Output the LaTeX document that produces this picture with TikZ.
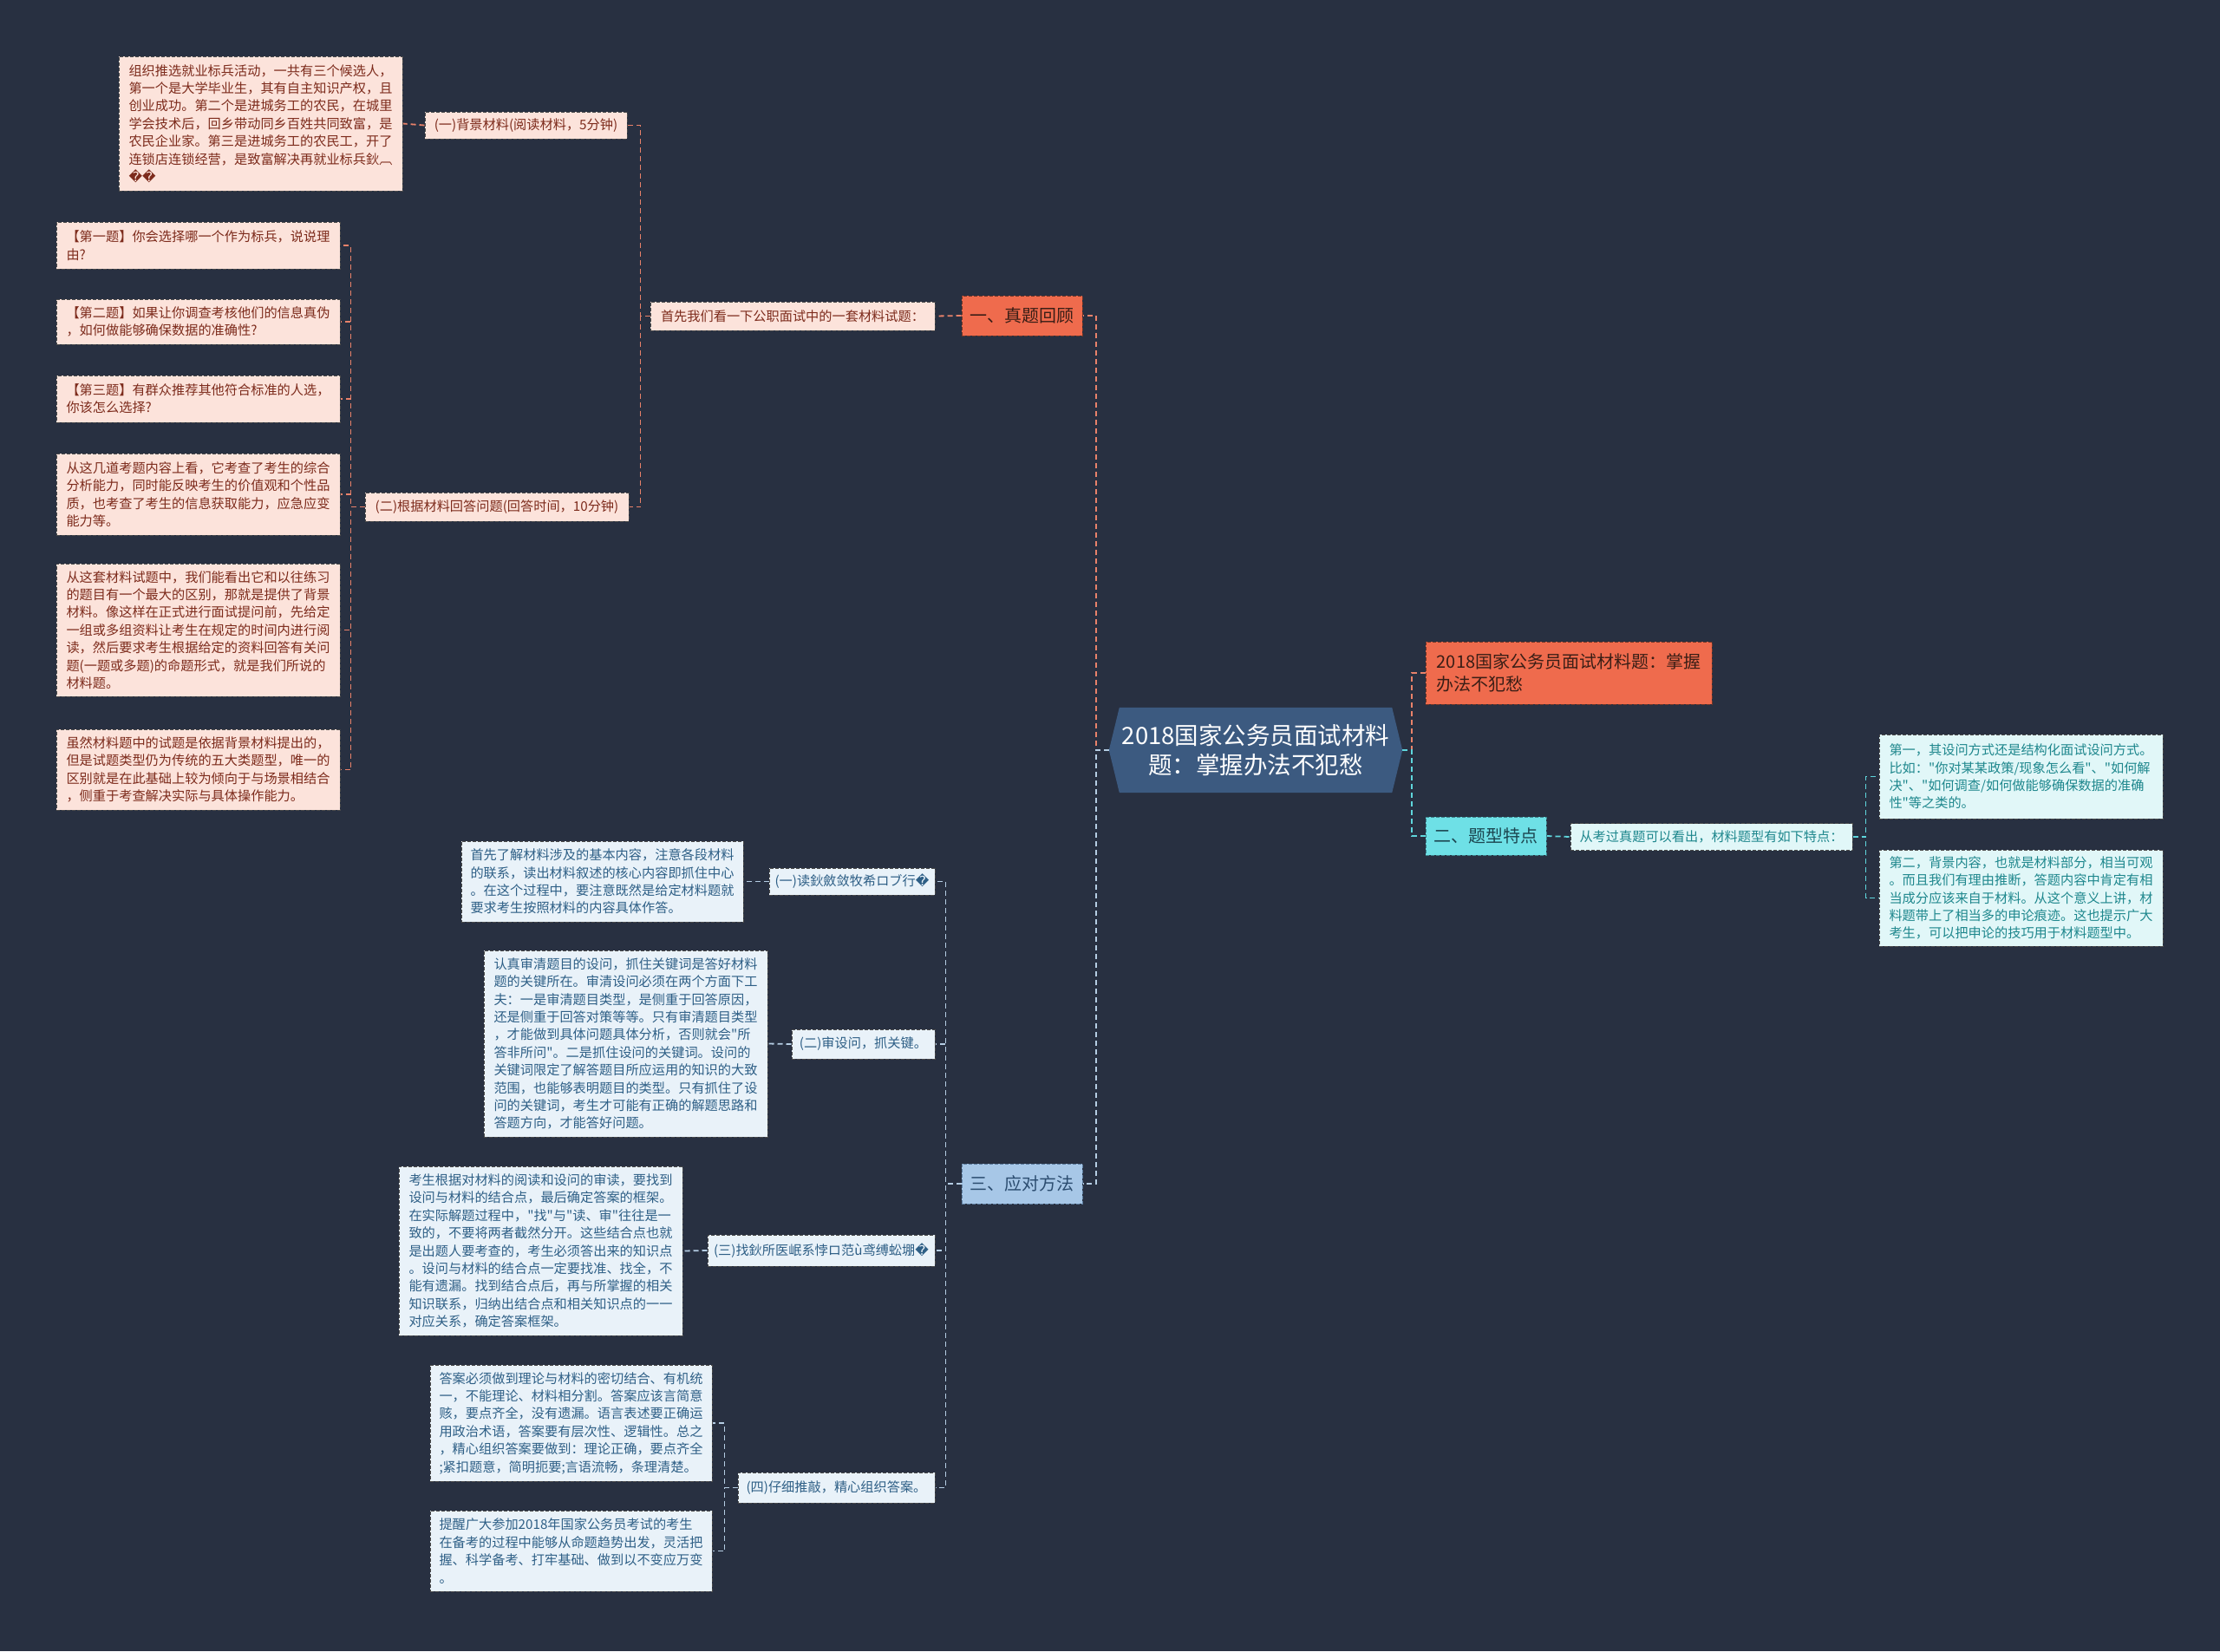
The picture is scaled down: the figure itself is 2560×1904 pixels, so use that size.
\documentclass[tikz,border=0pt]{standalone}
\usepackage{fontspec}
\newfontfamily\cjk{Noto Sans CJK SC}
\newfontfamily\dejavu{DejaVu Sans}
\usetikzlibrary{backgrounds}
\definecolor{cbg}{HTML}{283041}
\definecolor{croot}{HTML}{3C5A80}
\definecolor{corange}{HTML}{EF6B4D}
\definecolor{corangetext}{HTML}{3A1E16}
\definecolor{cpink}{HTML}{FCE3DB}
\definecolor{cpinktext}{HTML}{7D2B1C}
\definecolor{ccyan}{HTML}{6EE0E6}
\definecolor{ccyantext}{HTML}{1C4650}
\definecolor{clcyan}{HTML}{E1F7F8}
\definecolor{clcyantext}{HTML}{1E878D}
\definecolor{cblue}{HTML}{A7C7E7}
\definecolor{cbluetext}{HTML}{2B4C6F}
\definecolor{clblue}{HTML}{E9F2F9}
\definecolor{clbluetext}{HTML}{2E5F86}
\definecolor{cboxline}{HTML}{4A4A4A}
\definecolor{clinkor}{HTML}{E9826A}
\definecolor{clinkcy}{HTML}{5FD6DC}
\definecolor{clinkbl}{HTML}{B5CDE3}
\begin{document}
\begin{tikzpicture}[x=1pt,y=-1pt,
  every node/.style={inner sep=0pt},
  wh/.style 2 args={minimum width=#1, minimum height=#2},
  boxbase/.style={rectangle, draw=cboxline, line width=1pt, dash pattern=on 4pt off 2pt},
  small/.style={font=\cjk\fontsize{15.2}{20.4}\selectfont, align=left},
  pinkbox/.style={boxbase, small, fill=cpink, text=cpinktext},
  lcyanbox/.style={boxbase, small, fill=clcyan, text=clcyantext},
  lbluebox/.style={boxbase, small, fill=clblue, text=clbluetext},
  orbox/.style={boxbase, fill=corange, text=corangetext, draw=corangetext!70!corange},
  lvlone/.style={font=\cjk\fontsize{20}{26}\selectfont, align=center},
  cybox/.style={boxbase, fill=ccyan, text=ccyantext, draw=ccyantext!60!ccyan},
  bluebox/.style={boxbase, fill=cblue, text=cbluetext, draw=cbluetext!60!cblue},
  linkbase/.style={line width=1.8pt, dash pattern=on 6pt off 4pt},
  orlink/.style={linkbase, draw=clinkor},
  cylink/.style={linkbase, draw=clinkcy},
  bllink/.style={linkbase, draw=clinkbl},
]
\useasboundingbox (0,0) rectangle (2560,1904);

% root
\node[wh={338}{98}, font=\cjk\fontsize{27.5}{34}\selectfont, align=center, text=white] (root) at (1448,865)
  {2018国家公务员面试材料\\题：掌握办法不犯愁};

% right side
\node[orbox, lvlone, wh={330}{72}, align=left] (r1) at (1809,776)
  {2018国家公务员面试材料题：掌握\\办法不犯愁};
\node[cybox, lvlone, wh={139}{44}] (r2) at (1713.5,964) {二、题型特点};
\node[lcyanbox, wh={325}{31}] (r2a) at (1973.5,965) {从考过真题可以看出，材料题型有如下特点：};
\node[lcyanbox, wh={327}{97}] (r2b) at (2330.5,895.5)
  {第一，其设问方式还是结构化面试设问方式。\\比如："你对某某政策/现象怎么看"、"如何解\\决"、"如何调查/如何做能够确保数据的准确\\性"等之类的。};
\node[lcyanbox, wh={327}{111}] (r2c) at (2330.5,1035.5)
  {第二，背景内容，也就是材料部分，相当可观\\。而且我们有理由推断，答题内容中肯定有相\\当成分应该来自于材料。从这个意义上讲，材\\料题带上了相当多的申论痕迹。这也提示广大\\考生，可以把申论的技巧用于材料题型中。};

% left top
\node[orbox, lvlone, wh={139}{46}] (l1) at (1178.5,364) {一、真题回顾};
\node[pinkbox, wh={328}{33}] (l1a) at (914,364.5) {首先我们看一下公职面试中的一套材料试题：};
\node[pinkbox, wh={233}{31}] (l1b) at (606.5,144.5) {(一)背景材料(阅读材料，5分钟)};
\node[pinkbox, wh={327}{155}] (bg) at (300.5,142.5)
  {组织推选就业标兵活动，一共有三个候选人，\\第一个是大学毕业生，其有自主知识产权，且\\创业成功。第二个是进城务工的农民，在城里\\学会技术后，回乡带动同乡百姓共同致富，是\\农民企业家。第三是进城务工的农民工，开了\\连锁店连锁经营，是致富解决再就业标兵鈥︹\\{\dejavu ��}};
\node[pinkbox, wh={304}{33}] (l1c) at (573,584.5) {(二)根据材料回答问题(回答时间，10分钟)};
\node[pinkbox, wh={327}{54}] (q1) at (228.5,283) {【第一题】你会选择哪一个作为标兵，说说理\\由?};
\node[pinkbox, wh={327}{52}] (q2) at (228.5,371) {【第二题】如果让你调查考核他们的信息真伪\\，如何做能够确保数据的准确性?};
\node[pinkbox, wh={327}{54}] (q3) at (228.5,460) {【第三题】有群众推荐其他符合标准的人选，\\你该怎么选择?};
\node[pinkbox, wh={327}{94}] (q4) at (228.5,570)
  {从这几道考题内容上看，它考查了考生的综合\\分析能力，同时能反映考生的价值观和个性品\\质，也考查了考生的信息获取能力，应急应变\\能力等。};
\node[pinkbox, wh={327}{153}] (q5) at (228.5,726.5)
  {从这套材料试题中，我们能看出它和以往练习\\的题目有一个最大的区别，那就是提供了背景\\材料。像这样在正式进行面试提问前，先给定\\一组或多组资料让考生在规定的时间内进行阅\\读，然后要求考生根据给定的资料回答有关问\\题(一题或多题)的命题形式，就是我们所说的\\材料题。};
\node[pinkbox, wh={327}{93}] (q6) at (228.5,887.5)
  {虽然材料题中的试题是依据背景材料提出的，\\但是试题类型仍为传统的五大类题型，唯一的\\区别就是在此基础上较为倾向于与场景相结合\\，侧重于考查解决实际与具体操作能力。};

% left bottom
\node[bluebox, lvlone, wh={139}{46}] (l3) at (1178.5,1365) {三、应对方法};
\node[lbluebox, wh={191}{31}] (m1) at (982.5,1016.5) {(一)读鈥斂敛牧希ロブ行{\dejavu �}};
\node[lbluebox, wh={325}{93}] (m1t) at (694.5,1016.5)
  {首先了解材料涉及的基本内容，注意各段材料\\的联系，读出材料叙述的核心内容即抓住中心\\。在这个过程中，要注意既然是给定材料题就\\要求考生按照材料的内容具体作答。};
\node[lbluebox, wh={165}{34}] (m2) at (995.5,1204) {(二)审设问，抓关键。};
\node[lbluebox, wh={327}{215}] (m2t) at (721.5,1203.5)
  {认真审清题目的设问，抓住关键词是答好材料\\题的关键所在。审清设问必须在两个方面下工\\夫：一是审清题目类型，是侧重于回答原因，\\还是侧重于回答对策等等。只有审清题目类型\\，才能做到具体问题具体分析，否则就会"所\\答非所问"。二是抓住设问的关键词。设问的\\关键词限定了解答题目所应运用的知识的大致\\范围，也能够表明题目的类型。只有抓住了设\\问的关键词，考生才可能有正确的解题思路和\\答题方向，才能答好问题。};
\node[lbluebox, wh={262}{36}] (m3) at (947,1442) {(三)找鈥所医岷系悖ロ范ù鸢缚蚣堋{\dejavu �}};
\node[lbluebox, wh={327}{195}] (m3t) at (623.5,1442.5)
  {考生根据对材料的阅读和设问的审读，要找到\\设问与材料的结合点，最后确定答案的框架。\\在实际解题过程中，"找"与"读、审"往往是一\\致的，不要将两者截然分开。这些结合点也就\\是出题人要考查的，考生必须答出来的知识点\\。设问与材料的结合点一定要找准、找全，不\\能有遗漏。找到结合点后，再与所掌握的相关\\知识联系，归纳出结合点和相关知识点的一一\\对应关系，确定答案框架。};
\node[lbluebox, wh={227}{35}] (m4) at (964.5,1715.5) {(四)仔细推敲，精心组织答案。};
\node[lbluebox, wh={325}{134}] (m4a) at (658.5,1641)
  {答案必须做到理论与材料的密切结合、有机统\\一，不能理论、材料相分割。答案应该言简意\\赅，要点齐全，没有遗漏。语言表述要正确运\\用政治术语，答案要有层次性、逻辑性。总之\\，精心组织答案要做到：理论正确，要点齐全\\;紧扣题意，简明扼要;言语流畅，条理清楚。};
\node[lbluebox, wh={325}{93}] (m4b) at (658.5,1788.5)
  {提醒广大参加2018年国家公务员考试的考生\\在备考的过程中能够从命题趋势出发，灵活把\\握、科学备考、打牢基础、做到以不变应万变\\。};

\begin{pgfonlayer}{background}
  \fill[cbg] (0,0) rectangle (2560,1904);
  \fill[croot] (root.west) -- ([xshift=12pt]root.north west) -- ([xshift=-12pt]root.north east)
    -- (root.east) -- ([xshift=-12pt]root.south east) -- ([xshift=12pt]root.south west) -- cycle;
  % connectors
  \draw[orlink] (root.west) -- ++(-15,0) |- (l1.east);
  \draw[bllink] (root.west) -- ++(-15,0) |- (l3.east);
  \draw[orlink] (root.east) -- ++(11,0) |- (r1.west);
  \draw[cylink] (root.east) -- ++(11,0) |- (r2.west);
  \draw[cylink] (r2.east) -- (r2a.west);
  \draw[cylink] (r2a.east) -- ++(15,0) |- (r2b.west);
  \draw[cylink] (r2a.east) -- ++(15,0) |- (r2c.west);
  \draw[orlink] (l1.west) -- (l1a.east);
  \draw[orlink] (l1a.west) -- ++(-11,0) |- (l1b.east);
  \draw[orlink] (l1a.west) -- ++(-11,0) |- (l1c.east);
  \draw[orlink] (l1b.west) -- (bg.east);
  \foreach \q in {q1,q2,q3,q4,q5,q6}
    \draw[orlink] (l1c.west) -- ++(-16,0) |- (\q.east);
  \foreach \m in {m1,m2,m3,m4}
    \draw[bllink] (l3.west) -- ++(-18,0) |- (\m.east);
  \draw[bllink] (m1.west) -- (m1t.east);
  \draw[bllink] (m2.west) -- (m2t.east);
  \draw[bllink] (m3.west) -- (m3t.east);
  \draw[bllink] (m4.west) -- ++(-15,0) |- (m4a.east);
  \draw[bllink] (m4.west) -- ++(-15,0) |- (m4b.east);
\end{pgfonlayer}
\end{tikzpicture}
\end{document}
